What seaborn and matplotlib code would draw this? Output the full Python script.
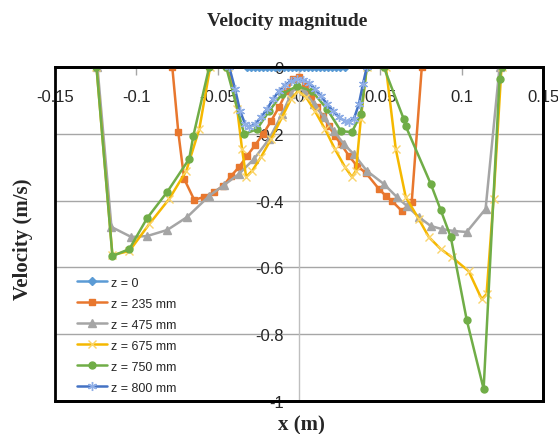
import matplotlib
matplotlib.use("Agg")
import matplotlib.pyplot as plt
import seaborn as sns
from matplotlib.ticker import FixedLocator, FuncFormatter
from matplotlib.patches import Rectangle

# ---- velocity profiles (x in m, velocity in m/s) ----
labels = ["z = 0", "z = 235 mm", "z = 475 mm", "z = 675 mm", "z = 750 mm", "z = 800 mm"]

x_z0 = [-0.032, -0.0295, -0.027, -0.0245, -0.022, -0.0195, -0.017, -0.0145, -0.012,
        -0.0095, -0.007, -0.0045, -0.002, 0.0005, 0.003, 0.0055, 0.008, 0.0105,
        0.013, 0.0155, 0.018, 0.0205, 0.023, 0.0255, 0.028]
v_z0 = [0.0] * len(x_z0)

x_z235 = [-0.0779, -0.0742, -0.0706, -0.0644, -0.0583, -0.0521, -0.0466, -0.0417,
          -0.0368, -0.0319, -0.0270, -0.0221, -0.0172, -0.0123, -0.0074, -0.0037,
          0.0, 0.0037, 0.0074, 0.0110, 0.0147, 0.0184, 0.0221, 0.0258, 0.0307,
          0.0356, 0.0411, 0.0491, 0.0534, 0.0571, 0.0632, 0.0693, 0.0755]
v_z235 = [0.0, -0.195, -0.335, -0.398, -0.389, -0.374, -0.356, -0.326, -0.299,
          -0.266, -0.234, -0.201, -0.162, -0.120, -0.072, -0.036, -0.030, -0.057,
          -0.087, -0.120, -0.147, -0.177, -0.207, -0.231, -0.266, -0.296, -0.317,
          -0.365, -0.386, -0.401, -0.431, -0.404, 0.0]

x_z475 = [-0.1239, -0.1153, -0.1031, -0.0933, -0.0810, -0.0687, -0.0552,
          -0.0460, -0.0368, -0.0276, -0.0184, -0.0104, -0.0049, -0.0018, 0.0031,
          0.0092, 0.0153, 0.0215, 0.0276, 0.0337, 0.0417, 0.0521, 0.0601, 0.0663,
          0.0736, 0.0810, 0.0877, 0.0951, 0.1031, 0.1147, 0.1233]
v_z475 = [0.0, -0.479, -0.509, -0.506, -0.488, -0.449, -0.386, -0.353,
          -0.320, -0.275, -0.216, -0.141, -0.081, -0.057, -0.072, -0.111, -0.150,
          -0.192, -0.231, -0.261, -0.311, -0.350, -0.389, -0.416, -0.449, -0.476,
          -0.485, -0.491, -0.494, -0.425, 0.0]

x_z675 = [-0.1245, -0.1147, -0.1043, -0.0920, -0.0798, -0.0693, -0.0613, -0.0546,
          -0.0436, -0.0380, -0.0350, -0.0325, -0.0288, -0.0233, -0.0172, -0.0104,
          -0.0049, -0.0006, 0.0043, 0.0098, 0.0160, 0.0221, 0.0282, 0.0325, 0.0350,
          0.0380, 0.0417, 0.0534, 0.0595, 0.0656, 0.0736, 0.0798, 0.0871, 0.0939,
          0.1043, 0.1123, 0.1153, 0.1196, 0.1245]
v_z675 = [0.0, -0.563, -0.551, -0.470, -0.395, -0.311, -0.186, 0.0,
          0.0, -0.126, -0.246, -0.329, -0.311, -0.269, -0.216, -0.150,
          -0.096, -0.072, -0.090, -0.132, -0.186, -0.246, -0.299, -0.329, -0.311,
          -0.156, 0.0, 0.0, -0.246, -0.389, -0.455, -0.509, -0.545, -0.569,
          -0.611, -0.695, -0.680, -0.395, 0.0]

x_z750 = [-0.1245, -0.1147, -0.1043, -0.0933, -0.0810, -0.0675, -0.0650, -0.0552,
          -0.0448, -0.0337, -0.0258, -0.0184, -0.0104, -0.0012, 0.0080, 0.0172,
          0.0258, 0.0325, 0.0380, 0.0417, 0.0521, 0.0644, 0.0656, 0.0810, 0.0871,
          0.0933, 0.1031, 0.1135, 0.1233, 0.1245]
v_z750 = [0.0, -0.566, -0.545, -0.452, -0.374, -0.275, -0.207, 0.0,
          0.0, -0.201, -0.186, -0.132, -0.081, -0.057, -0.072, -0.126,
          -0.192, -0.195, -0.141, 0.0, 0.0, -0.156, -0.177, -0.350, -0.428,
          -0.509, -0.757, -0.964, -0.036, 0.0]

x_z800 = [-0.0429, -0.0393, -0.0362, -0.0331, -0.0307, -0.0270, -0.0233, -0.0196,
          -0.0160, -0.0123, -0.0086, -0.0049, -0.0012, 0.0025, 0.0061, 0.0098,
          0.0135, 0.0172, 0.0209, 0.0245, 0.0282, 0.0307, 0.0337, 0.0368, 0.0393,
          0.0417]
v_z800 = [0.0, -0.066, -0.132, -0.171, -0.180, -0.171, -0.150, -0.126, -0.096,
          -0.072, -0.054, -0.042, -0.036, -0.039, -0.048, -0.066, -0.087, -0.111,
          -0.132, -0.150, -0.162, -0.165, -0.156, -0.111, -0.051, 0.0]

x_ticks = [-0.15, -0.1, -0.05, 0, 0.05, 0.1, 0.15]
y_ticks = [0, -0.2, -0.4, -0.6, -0.8, -1]

# ---- styling ----
sns.set_style("white")
plt.rcParams["axes.unicode_minus"] = False
narrow = ["Liberation Sans Narrow", "DejaVu Sans Condensed", "Liberation Sans"]
serif = ["Liberation Serif", "DejaVu Serif"]

series = [
    (x_z0,   v_z0,   "#5B9BD5", "D",       4.2, 1.0),
    (x_z235, v_z235, "#E8772E", "s",       5.0, 1.0),
    (x_z475, v_z475, "#A5A5A5", "^",       6.0, 1.0),
    (x_z675, v_z675, "#F5B800", "x",       5.5, 1.0),
    (x_z750, v_z750, "#70AD47", "o",       5.0, 1.0),
    (x_z800, v_z800, "#4472C4", (6, 2, 0), 6.5, 1.0),
]
edge_tint = {3: "#FAD46A", 5: "#8FAEE6"}

fig = plt.figure(figsize=(5.58, 4.35), dpi=100)
ax = fig.add_axes([55 / 558, 1 - 402 / 435, 488 / 558, 334 / 435])

for i, (xs, ys, col, mk, ms, mew) in enumerate(series):
    mec = edge_tint.get(i, col)
    sns.lineplot(x=xs, y=ys, ax=ax, color=col, lw=1.8, marker=mk, markersize=ms,
                 markerfacecolor=col, markeredgecolor=mec, markeredgewidth=mew,
                 estimator=None, sort=False, label=labels[i], zorder=3 + i)

ax.set_xlim(-0.15, 0.15)
ax.set_ylim(-1, 0)

# horizontal gridlines
ax.yaxis.grid(True, color="#A6A6A6", lw=1.0)
ax.xaxis.grid(False)
ax.set_axisbelow(True)

# x axis sits on the top edge, labels drawn just beneath it
ax.xaxis.set_major_locator(FixedLocator(x_ticks))
ax.xaxis.set_major_formatter(FuncFormatter(lambda v, p: "%g" % v))
ax.tick_params(axis="x", top=True, bottom=False, labeltop=True, labelbottom=False,
               direction="in", length=6, width=1, color="#A6A6A6", pad=-27,
               labelsize=12)

# y axis crosses at x = 0
ax.spines["left"].set_position(("data", 0))
ax.spines["left"].set_color("#BFBFBF")
ax.spines["left"].set_linewidth(1.0)
ax.yaxis.set_major_locator(FixedLocator(y_ticks))
ax.yaxis.set_major_formatter(FuncFormatter(lambda v, p: "%g" % v))
ax.tick_params(axis="y", left=True, right=False, length=0, pad=11, labelsize=12)
for t in ax.get_xticklabels() + ax.get_yticklabels():
    t.set_family(narrow)

for s in ("top", "bottom", "right"):
    ax.spines[s].set_color("black")
    ax.spines[s].set_linewidth(2.0)
ax.add_patch(Rectangle((0, 0), 1, 1, transform=ax.transAxes, fill=False,
                       ec="black", lw=2.0, clip_on=False, zorder=20))

ax.set_xlabel("")
ax.set_ylabel("")

leg = ax.legend(loc="upper left", bbox_to_anchor=(0.045, 0.372), frameon=False,
                handlelength=2.4, handletextpad=0.3, labelspacing=0.72,
                borderpad=0, borderaxespad=0, prop={"family": narrow, "size": 9})

fig.text(287 / 558, 1 - 22 / 435, "Velocity magnitude", ha="center", va="center",
         fontsize=14, fontweight="bold", family=serif)
fig.text(301 / 558, 1 - 425 / 435, "x (m)", ha="center", va="center",
         fontsize=15, fontweight="bold", family=serif)
fig.text(23 / 558, 1 - 239 / 435, "Velocity (m/s)", ha="center", va="center",
         rotation=90, fontsize=15, fontweight="bold", family=serif)

fig.savefig("out.png", dpi=100, facecolor="white")
